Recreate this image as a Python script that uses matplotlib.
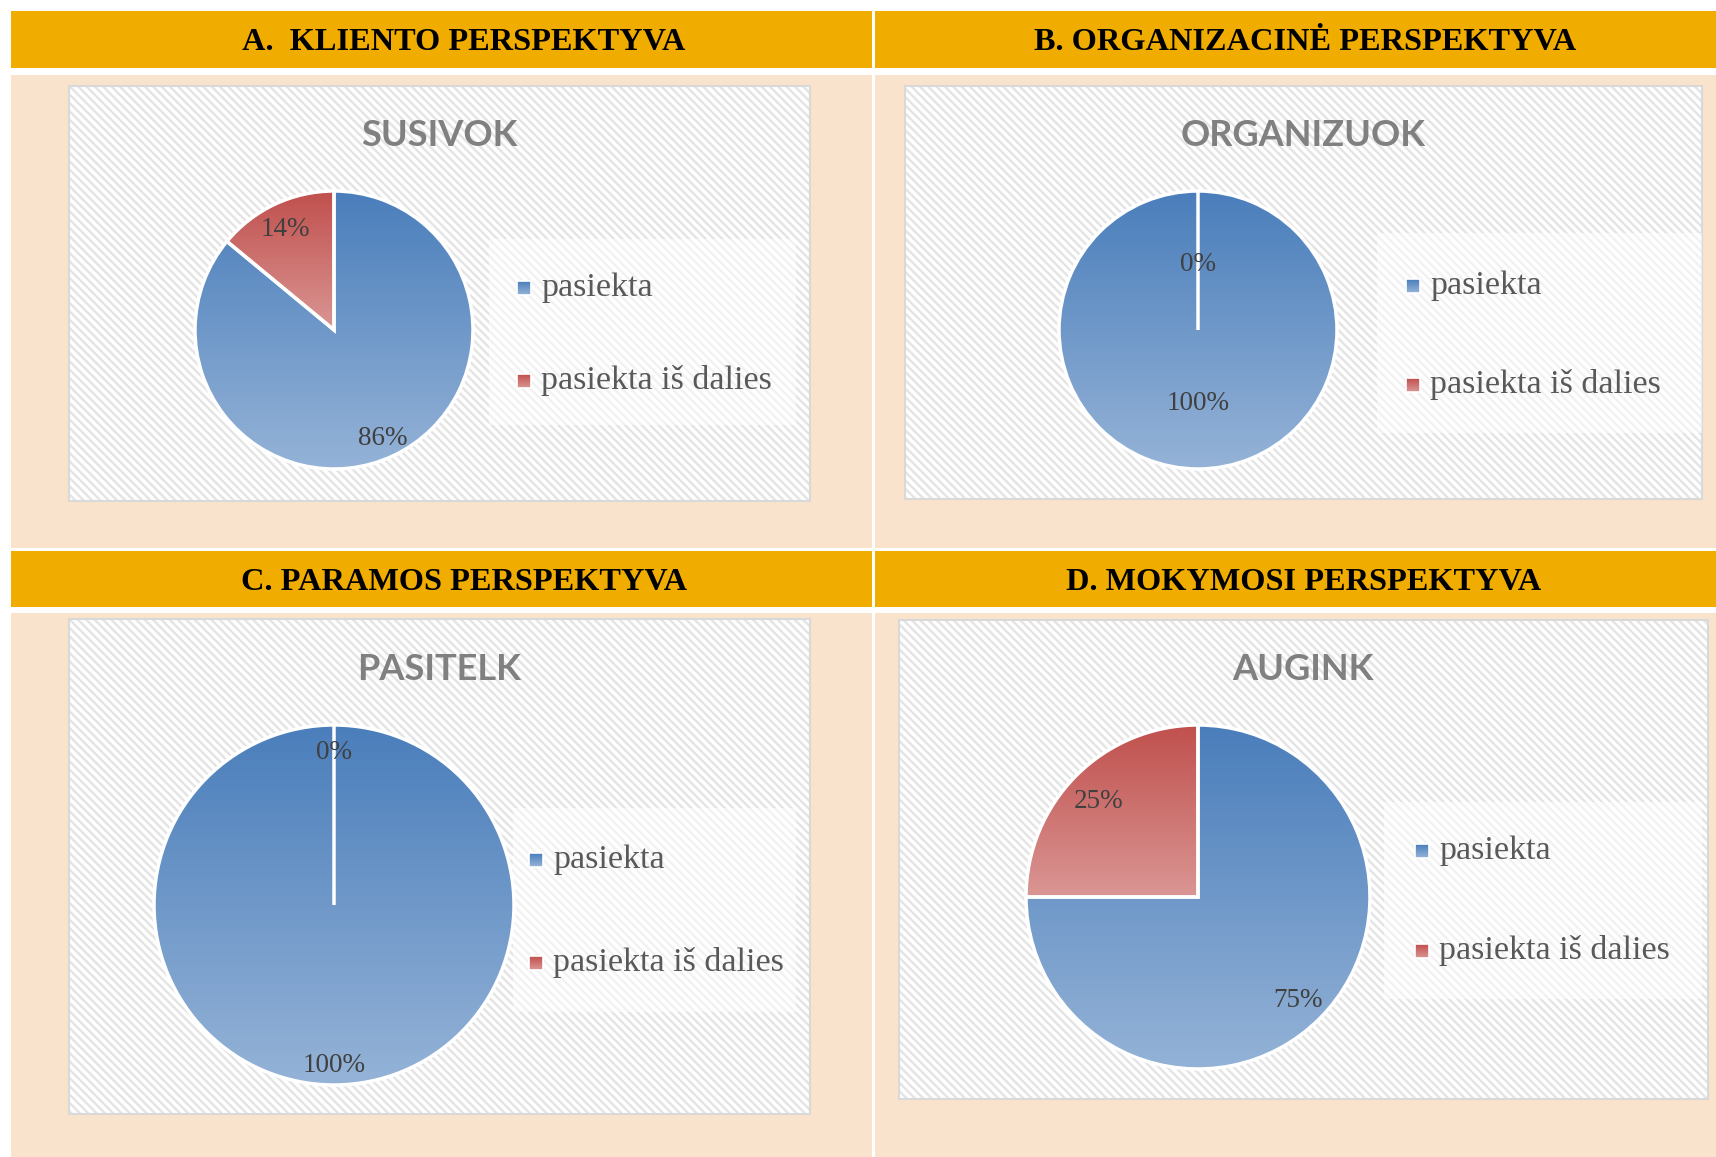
import numpy as np
import matplotlib
matplotlib.use("Agg")
import matplotlib.pyplot as plt
from matplotlib.patches import Rectangle
from matplotlib.colors import LinearSegmentedColormap
from matplotlib.transforms import offset_copy

# ---------------- data ----------------
headers = ["A.  KLIENTO PERSPEKTYVA", "B. ORGANIZACINĖ PERSPEKTYVA",
           "C. PARAMOS PERSPEKTYVA", "D. MOKYMOSI PERSPEKTYVA"]
titles = ["SUSIVOK", "ORGANIZUOK", "PASITELK", "AUGINK"]
categories = ["pasiekta", "pasiekta iš dalies"]
pasiekta = [86, 100, 100, 75]
pasiekta_is_dalies = [14, 0, 0, 25]

# ---------------- style / layout ----------------
W, H = 1716, 1157
HEADER_COL = "#F0AD00"
PANEL_COL = "#FAE3CC"
TXT = "#595959"
grad_cols = [("#4A7EBB", "#95B3D7"), ("#C0504D", "#DA9694")]

headers_rect = [(11, 11, 872, 68), (875, 11, 1716, 68), (11, 551, 872, 607), (875, 551, 1716, 607)]
header_text_pos = [(464, 43), (1305, 43), (464, 583), (1304, 583)]
panels_rect = [(11, 75, 872, 548), (875, 75, 1716, 548), (11, 613, 872, 1157), (875, 613, 1716, 1157)]
chart_box = [(69, 86, 810, 501), (905, 86, 1702, 499), (69, 619, 810, 1114), (899, 620, 1708, 1099)]
title_pos = [(439, 136), (1303, 136), (439, 670), (1303, 670)]
pie_geom = [(334, 330, 139), (1198, 330, 139), (334, 905, 180), (1198, 897, 172)]
pct_dist = [0.83, 0.5, 0.87, 0.82]
legend_box = [(489, 239, 796, 425), (1377, 233, 1702, 433), (513, 808, 796, 1012), (1384, 802, 1702, 999)]
legend_marker = [(524, 288, 381), (1413, 286, 385), (536, 860, 963), (1422, 851, 951)]

fig = plt.figure(figsize=(W / 100, H / 100), dpi=100)
fig.patch.set_facecolor("white")
bg = fig.add_axes([0, 0, 1, 1])
bg.set_xlim(0, W)
bg.set_ylim(H, 0)
bg.axis("off")

def rect(ax, x0, y0, x1, y1, **kw):
    r = Rectangle((x0, y0), x1 - x0, y1 - y0, **kw)
    ax.add_patch(r)
    return r

for i in range(4):
    rect(bg, *headers_rect[i], facecolor=HEADER_COL, edgecolor="none")
    rect(bg, *panels_rect[i], facecolor=PANEL_COL, edgecolor="none")
    bg.text(*header_text_pos[i], headers[i], ha="center", va="center",
            fontsize=23.3, fontweight="bold", family="Liberation Serif", color="black")

plt.rcParams["hatch.linewidth"] = 1.7
for i in range(4):
    x0, y0, x1, y1 = chart_box[i]
    rect(bg, x0, y0, x1, y1, facecolor="white", edgecolor="#E4E4E4", hatch="\\\\\\\\", linewidth=0)
    rect(bg, x0, y0, x1, y1, facecolor="none", edgecolor="#D9D9D9", linewidth=1.5)
    lx0, ly0, lx1, ly1 = legend_box[i]
    rect(bg, lx0, ly0, lx1, ly1, facecolor="white", edgecolor="none", alpha=0.5)
    bg.text(*title_pos[i], titles[i], ha="center", va="center", fontsize=26,
            fontweight="bold", family="Lato", color="#808080")

def gradient_img(top, bottom, n=256):
    cmap = LinearSegmentedColormap.from_list("g", [top, bottom])
    return cmap(np.linspace(0, 1, n))[:, None, :]

# legend
for i in range(4):
    mx, my1, my2 = legend_marker[i]
    for k, my in enumerate([my1, my2]):
        s = 14
        img = gradient_img(*grad_cols[k], 32)
        bg.imshow(img, extent=(mx - s / 2, mx + s / 2, my + s / 2, my - s / 2),
                  aspect="auto", zorder=5, interpolation="bilinear")
        rect(bg, mx - s / 2, my - s / 2, mx + s / 2, my + s / 2, facecolor="none",
             edgecolor="white", linewidth=1.2, zorder=6)
        bg.text(mx + 17, my, categories[k], ha="left", va="center", fontsize=24.5,
                family="Liberation Serif", color=TXT, zorder=6)
bg.set_xlim(0, W)
bg.set_ylim(H, 0)

# pies
for i in range(4):
    cx, cy, r = pie_geom[i]
    ax = fig.add_axes([(cx - r) / W, 1 - (cy + r) / H, 2 * r / W, 2 * r / H])
    ax.axis("off")
    vals = [pasiekta[i], pasiekta_is_dalies[i]]
    wedges, texts, autotexts = ax.pie(
        vals, startangle=90, counterclock=False, radius=1,
        autopct=lambda p: f"{p:.0f}%", pctdistance=pct_dist[i],
        wedgeprops=dict(edgecolor="white", linewidth=2.5),
        textprops=dict(fontsize=19.5, family="Liberation Serif", color="#404040"))
    ax.set_xlim(-1, 1)
    ax.set_ylim(-1, 1)
    ax.set_aspect("equal")
    for k, w in enumerate(wedges):
        w.set_clip_on(False)
        w.set_zorder(3)
        w.set_facecolor("none")
        if vals[k] > 0:
            verts = w.get_path().vertices
            ymin, ymax = verts[:, 1].min(), verts[:, 1].max()
            xmin, xmax = verts[:, 0].min(), verts[:, 0].max()
            im = ax.imshow(gradient_img(*grad_cols[k]), extent=(xmin, xmax, ymin, ymax),
                           aspect="auto", zorder=2, interpolation="bilinear")
            im.set_clip_path(w)
    for t in autotexts:
        t.set_zorder(5)
        t.set_transform(offset_copy(ax.transData, fig=fig, x=0, y=-4, units="dots"))
    ax.set_xlim(-1, 1)
    ax.set_ylim(-1, 1)

fig.savefig("out.png", dpi=100)
